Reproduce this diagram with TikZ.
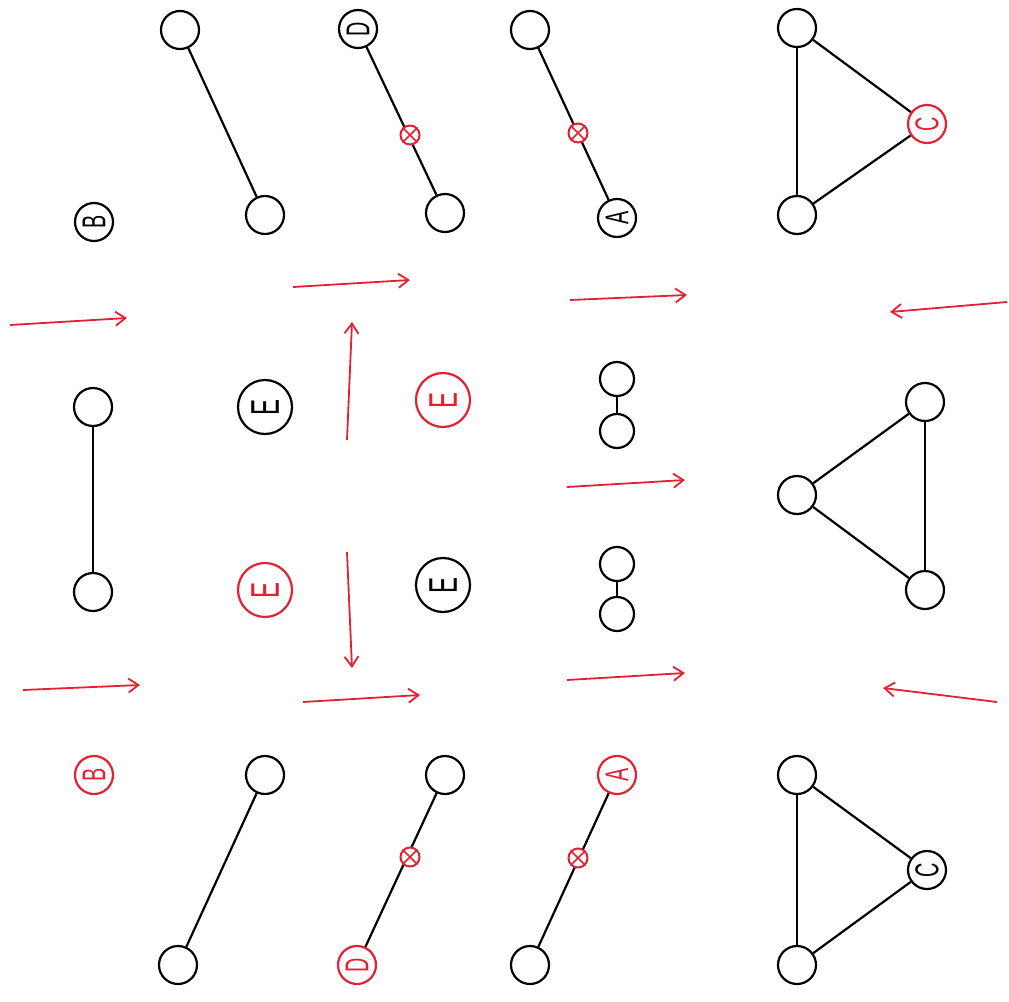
\documentclass[tikz,border=0pt]{standalone}
\usepackage{fontspec}
\setmainfont{Liberation Sans}
\usetikzlibrary{arrows.meta}
\definecolor{myred}{RGB}{228,32,52}
\tikzset{
  vert/.style={circle, draw=black, line width=2.2pt, minimum size=38pt, inner sep=0pt, fill=white},
  lett/.style={vert, rotate=90, font=\fontsize{33}{33}\selectfont},
  bigl/.style={vert, minimum size=54pt, rotate=90, font=\fontsize{40}{40}\selectfont},
  redc/.style={draw=myred, text=myred},
  small/.style={vert, minimum size=34pt},
  xmk/.style={circle, draw=myred, line width=2pt, minimum size=19pt, inner sep=0pt, fill=white},
  edge/.style={line width=2.2pt, black},
  rarr/.style={line width=1.8pt, myred, -{Straight Barb[length=10pt,width=14pt,line width=1.8pt]}}
}
\newcommand{\Lt}[1]{\scalebox{0.6}[1]{#1}}
\begin{document}
\begin{tikzpicture}[x=1pt,y=-1pt]
\useasboundingbox (0,0) rectangle (1009,1001);
% ---------- top row ----------
\node[vert] (t1a) at (180,30) {};
\node[vert] (t1b) at (265,215) {};
\draw[edge] (t1a) -- (t1b);
\node[lett] (tB) at (94,222) {\Lt{B}};
\node[lett] (t2D) at (358,29) {\Lt{D}};
\node[vert] (t2b) at (445,213) {};
\draw[edge] (t2D) -- (t2b);
\node[xmk] (m1) at (410,135) {};
\node[vert] (t3a) at (530,30) {};
\node[lett] (t3A) at (617,218) {\Lt{A}};
\draw[edge] (t3a) -- (t3A);
\node[xmk] (m2) at (578,133) {};
\node[vert] (t4a) at (797,28) {};
\node[vert] (t4b) at (797,215) {};
\node[lett,redc] (t4C) at (927,124) {\Lt{C}};
\draw[edge] (t4a) -- (t4b);
\draw[edge] (t4a) -- (t4C);
\draw[edge] (t4b) -- (t4C);
% ---------- middle ----------
\node[vert] (mv1) at (93,407) {};
\node[vert] (mv2) at (93,592) {};
\draw[edge] (mv1) -- (mv2);
\node[bigl] (E1) at (265,407) {\Lt{E}};
\node[bigl,redc] (E2) at (443,400) {\Lt{E}};
\node[bigl,redc] (E3) at (265,590) {\Lt{E}};
\node[bigl] (E4) at (443,585) {\Lt{E}};
\node[small] (s1) at (617,379) {};
\node[small] (s2) at (617,431) {};
\draw[edge] (s1) -- (s2);
\node[small] (s3) at (617,564) {};
\node[small] (s4) at (617,614) {};
\draw[edge] (s3) -- (s4);
\node[vert] (r1) at (925,402) {};
\node[vert] (r2) at (797,495) {};
\node[vert] (r3) at (925,590) {};
\draw[edge] (r1) -- (r2);
\draw[edge] (r2) -- (r3);
\draw[edge] (r1) -- (r3);
% ---------- bottom row ----------
\node[lett,redc] (bB) at (94,775) {\Lt{B}};
\node[vert] (b1a) at (265,775) {};
\node[vert] (b1b) at (178,965) {};
\draw[edge] (b1a) -- (b1b);
\node[vert] (b2a) at (445,775) {};
\node[lett,redc] (b2D) at (357,965) {\Lt{D}};
\draw[edge] (b2a) -- (b2D);
\node[xmk] (m3) at (410,857) {};
\node[lett,redc] (b3A) at (617,775) {\Lt{A}};
\node[vert] (b3b) at (530,965) {};
\draw[edge] (b3A) -- (b3b);
\node[xmk] (m4) at (578,858) {};
\node[vert] (b4a) at (797,775) {};
\node[vert] (b4b) at (797,965) {};
\node[lett] (b4C) at (927,870) {\Lt{C}};
\draw[edge] (b4a) -- (b4b);
\draw[edge] (b4a) -- (b4C);
\draw[edge] (b4b) -- (b4C);
% crosses in markers
\foreach \m in {m1,m2,m3,m4}{
  \draw[myred, line width=1.6pt] (\m.45) -- (\m.225) (\m.135) -- (\m.315);
}
% ---------- arrows ----------
\coordinate (a1s) at (10,325);   \coordinate (a1e) at (127,318);
\coordinate (a2s) at (293,287);  \coordinate (a2e) at (410,280);
\coordinate (a3s) at (570,300);  \coordinate (a3e) at (687,295);
\coordinate (a4s) at (1007,302); \coordinate (a4e) at (890,312);
\coordinate (v1s) at (347,440);  \coordinate (v1e) at (352,322);
\coordinate (v2s) at (347,552);  \coordinate (v2e) at (352,668);
\coordinate (a5s) at (567,487);  \coordinate (a5e) at (685,480);
\coordinate (a6s) at (23,690);   \coordinate (a6e) at (140,685);
\coordinate (a7s) at (303,702);  \coordinate (a7e) at (420,695);
\coordinate (a8s) at (567,680);  \coordinate (a8e) at (685,673);
\coordinate (a9s) at (997,702);  \coordinate (a9e) at (883,688);
\foreach \a in {a1,a2,a3,a4,v1,v2,a5,a6,a7,a8,a9}{
  \draw[rarr] (\a s) -- (\a e);
}
\end{tikzpicture}
\end{document}
